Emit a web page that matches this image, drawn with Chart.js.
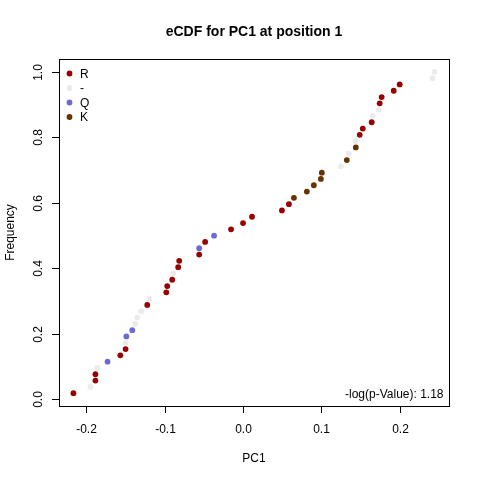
<!DOCTYPE html>
<html>
<head>
<meta charset="utf-8">
<script src="https://cdn.jsdelivr.net/npm/chart.js@4/dist/chart.umd.min.js"></script>
<style>
  body { margin: 0; background: #fff; }
  canvas { display: block; }
</style>
</head>
<body>
<canvas id="ecdfChart" width="480" height="480"></canvas>
<script>
// sorted PC1 values and the residue found at position 1 for each
const pc1Values = [
  -0.2166, -0.195, -0.1885, -0.1885, -0.186, -0.173, -0.1567, -0.150, -0.150, -0.149,
  -0.1414, -0.1376, -0.135, -0.130, -0.1223, -0.1197, -0.098, -0.0968, -0.0904, -0.0892,
  -0.0828, -0.0815, -0.056, -0.056, -0.0484, -0.037, -0.0153, 0.0, 0.0115, 0.0497,
  0.0586, 0.065, 0.0815, 0.0904, 0.0994, 0.1006, 0.1248, 0.1325, 0.135, 0.144,
  0.144, 0.149, 0.1529, 0.1643, 0.1656, 0.1732, 0.1745, 0.177, 0.1924, 0.200,
  0.242, 0.2446
];
const residues = [
  'R', '-', 'R', 'R', '-', 'Q', 'R', 'R', '-', 'Q',
  'Q', '-', '-', '-', 'R', '-', 'R', 'R', 'R', '-',
  'R', 'R', 'R', 'Q', 'R', 'Q', 'R', 'R', 'R', 'R',
  'R', 'K', 'K', 'K', 'K', 'K', '-', 'K', '-', 'K',
  '-', 'R', 'R', 'R', '-', '-', 'R', 'R', 'R', 'R',
  '-', '-'
];
const legendLabels = ['R', '-', 'Q', 'K'];
const legendColors = ['#990000', '#EBEBEB', '#6B6BCF', '#663300'];
const xTicks = [-0.2, -0.1, 0.0, 0.1, 0.2];
const yTicks = [0.0, 0.2, 0.4, 0.6, 0.8, 1.0];
const pValueText = '-log(p-Value): 1.18';

const n = pc1Values.length;
const datasets = legendLabels.map((lab, j) => ({
  label: lab,
  data: pc1Values
    .map((v, i) => ({ x: v, y: (i + 1) / n, r: residues[i] }))
    .filter(p => p.r === lab),
  backgroundColor: legendColors[j],
  borderWidth: 0,
  pointRadius: 2.9,
  pointHoverRadius: 2.9
}));

const FONT = '"Liberation Sans", Arial, sans-serif';

// R style frame, ticks, labels and legend
const rFrame = {
  id: 'rFrame',
  afterDraw(chart) {
    const c = chart.ctx;
    const a = chart.chartArea;
    const xs = chart.scales.x, ys = chart.scales.y;
    c.save();
    c.strokeStyle = '#000';
    c.lineWidth = 1;
    c.strokeRect(Math.round(a.left) + 0.5, Math.round(a.top) + 0.5,
      Math.round(a.right - a.left), Math.round(a.bottom - a.top));

    c.fillStyle = '#000';
    c.font = '12px ' + FONT;
    // x ticks
    c.textAlign = 'center';
    c.textBaseline = 'alphabetic';
    xTicks.forEach(t => {
      const px = Math.round(xs.getPixelForValue(t)) + 0.5;
      c.beginPath();
      c.moveTo(px, a.bottom);
      c.lineTo(px, a.bottom + 7);
      c.stroke();
      c.fillText(t.toFixed(1), px, a.bottom + 27);
    });
    // y ticks, rotated labels
    yTicks.forEach(t => {
      const py = Math.round(ys.getPixelForValue(t)) + 0.5;
      c.beginPath();
      c.moveTo(a.left, py);
      c.lineTo(a.left - 7, py);
      c.stroke();
      c.save();
      c.translate(a.left - 17, py);
      c.rotate(-Math.PI / 2);
      c.textAlign = 'center';
      c.fillText(t.toFixed(1), 0, 0);
      c.restore();
    });
    // axis titles
    c.textAlign = 'center';
    c.fillText('PC1', (a.left + a.right) / 2, 462);
    c.save();
    c.translate(14, (a.top + a.bottom) / 2);
    c.rotate(-Math.PI / 2);
    c.fillText('Frequency', 0, 0);
    c.restore();
    // main title
    c.font = 'bold 14px ' + FONT;
    c.fillText('eCDF for PC1 at position 1', (a.left + a.right) / 2, 36);
    // legend
    c.font = '12px ' + FONT;
    c.textAlign = 'left';
    c.textBaseline = 'middle';
    legendLabels.forEach((lab, j) => {
      const y = 73.5 + j * 14.5;
      c.fillStyle = legendColors[j];
      c.beginPath();
      c.arc(69.5, y, 2.9, 0, Math.PI * 2);
      c.fill();
      c.fillStyle = '#000';
      c.fillText(lab, 80, y + 1);
    });
    // p-value note
    c.textAlign = 'right';
    c.fillText(pValueText, 443.5, 395);
    c.restore();
  }
};

new Chart(document.getElementById('ecdfChart').getContext('2d'), {
  type: 'scatter',
  data: { datasets: datasets },
  options: {
    responsive: false,
    animation: false,
    devicePixelRatio: 1,
    layout: { padding: { left: 59, right: 31, top: 59, bottom: 74 } },
    plugins: {
      legend: { display: false },
      tooltip: { enabled: false }
    },
    scales: {
      x: { type: 'linear', display: false, min: -0.235, max: 0.263 },
      y: { type: 'linear', display: false, min: -0.0200, max: 1.0392 }
    }
  },
  plugins: [rFrame]
});
</script>
</body>
</html>
